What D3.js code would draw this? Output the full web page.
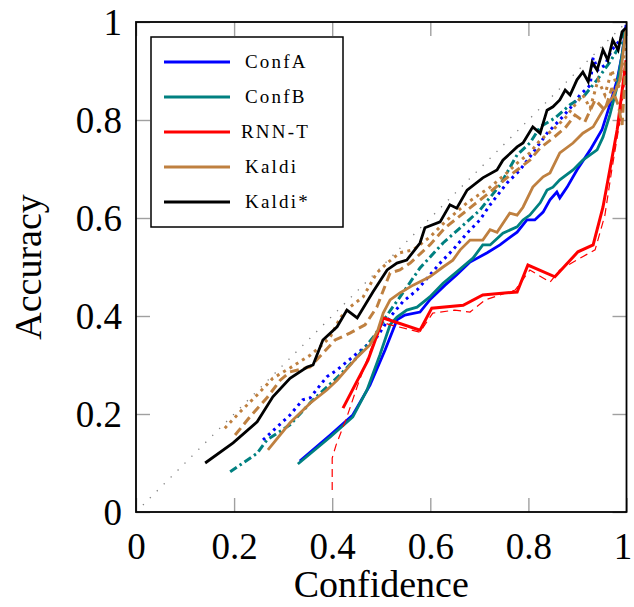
<!DOCTYPE html>
<html><head><meta charset="utf-8">
<script src="https://cdn.jsdelivr.net/npm/d3@7"></script>
<style>body{margin:0;background:#fff}svg{display:block}</style>
</head><body><svg id="c" width="634" height="607"></svg>
<script>
const ticks = [0, 0.2, 0.4, 0.6, 0.8, 1];
const tickLabels = ["0", "0.2", "0.4", "0.6", "0.8", "1"];
const legendNames = ["ConfA", "ConfB", "RNN-T", "Kaldi", "Kaldi*"];
const diagonal = [[0,0],[1,1]];

const confA_solid = [[0.334,0.104],[0.396,0.157],[0.442,0.198],[0.477,0.259],[0.508,0.331],[0.532,0.392],[0.548,0.402],[0.579,0.408],[0.599,0.433],[0.630,0.463],[0.654,0.484],[0.681,0.510],[0.716,0.529],[0.742,0.545],[0.763,0.561],[0.777,0.571],[0.797,0.596],[0.813,0.596],[0.830,0.612],[0.844,0.637],[0.858,0.653],[0.864,0.641],[0.879,0.663],[0.899,0.698],[0.926,0.739],[0.950,0.780],[0.966,0.831],[0.981,0.882],[0.991,0.933],[0.999,0.994]];
const confA_dotted = [[0.259,0.147],[0.287,0.173],[0.314,0.198],[0.340,0.229],[0.355,0.233],[0.389,0.276],[0.410,0.290],[0.451,0.324],[0.491,0.357],[0.518,0.398],[0.544,0.429],[0.573,0.453],[0.620,0.508],[0.646,0.535],[0.675,0.569],[0.701,0.596],[0.722,0.627],[0.756,0.671],[0.783,0.698],[0.809,0.733],[0.838,0.773],[0.864,0.800],[0.885,0.824],[0.905,0.851],[0.926,0.871],[0.932,0.927],[0.942,0.902],[0.956,0.912],[0.970,0.943],[0.987,0.963],[0.999,0.994]];
const confB_solid = [[0.330,0.098],[0.396,0.153],[0.442,0.194],[0.471,0.249],[0.497,0.320],[0.518,0.382],[0.532,0.398],[0.552,0.412],[0.573,0.418],[0.599,0.439],[0.626,0.467],[0.654,0.490],[0.687,0.518],[0.707,0.545],[0.722,0.545],[0.748,0.569],[0.777,0.582],[0.789,0.596],[0.803,0.606],[0.824,0.631],[0.838,0.657],[0.850,0.663],[0.864,0.678],[0.891,0.698],[0.911,0.718],[0.940,0.739],[0.952,0.765],[0.966,0.810],[0.979,0.861],[0.989,0.922],[0.999,0.984]];
const confB_dashdot = [[0.192,0.082],[0.247,0.120],[0.267,0.147],[0.314,0.178],[0.361,0.229],[0.389,0.255],[0.416,0.280],[0.451,0.316],[0.487,0.361],[0.512,0.402],[0.544,0.447],[0.579,0.498],[0.626,0.549],[0.661,0.580],[0.701,0.616],[0.742,0.667],[0.777,0.729],[0.803,0.753],[0.824,0.786],[0.854,0.804],[0.885,0.831],[0.915,0.851],[0.940,0.882],[0.966,0.918],[0.987,0.953],[0.999,0.988]];
const rnnt_solid = [[0.422,0.212],[0.473,0.310],[0.504,0.396],[0.579,0.371],[0.603,0.416],[0.667,0.422],[0.707,0.443],[0.777,0.449],[0.799,0.504],[0.854,0.480],[0.901,0.531],[0.932,0.545],[0.952,0.622],[0.981,0.780],[0.999,0.922]];
const rnnt_dashed = [[0.400,0.045],[0.400,0.110],[0.408,0.137],[0.430,0.194],[0.452,0.259],[0.477,0.327],[0.501,0.388],[0.518,0.382],[0.579,0.367],[0.605,0.406],[0.650,0.412],[0.681,0.408],[0.712,0.433],[0.773,0.453],[0.803,0.494],[0.844,0.469],[0.864,0.494],[0.905,0.518],[0.936,0.535],[0.956,0.606],[0.970,0.698],[0.987,0.800],[0.999,0.902]];
const kaldi_solid = [[0.269,0.127],[0.314,0.182],[0.355,0.222],[0.389,0.249],[0.410,0.269],[0.451,0.316],[0.477,0.341],[0.493,0.371],[0.504,0.406],[0.518,0.433],[0.538,0.447],[0.565,0.463],[0.599,0.480],[0.626,0.500],[0.646,0.514],[0.661,0.535],[0.681,0.555],[0.707,0.555],[0.722,0.576],[0.736,0.571],[0.762,0.610],[0.777,0.606],[0.789,0.622],[0.809,0.663],[0.830,0.684],[0.844,0.692],[0.864,0.733],[0.891,0.753],[0.911,0.773],[0.932,0.786],[0.952,0.820],[0.972,0.847],[0.987,0.882],[0.993,0.937],[0.999,0.984]];
const kaldi_dashed = [[0.202,0.157],[0.232,0.194],[0.267,0.233],[0.294,0.269],[0.314,0.286],[0.355,0.296],[0.381,0.324],[0.406,0.351],[0.436,0.365],[0.467,0.382],[0.491,0.418],[0.518,0.488],[0.538,0.494],[0.559,0.508],[0.599,0.545],[0.630,0.580],[0.675,0.616],[0.722,0.653],[0.756,0.682],[0.777,0.698],[0.803,0.718],[0.824,0.743],[0.850,0.763],[0.875,0.784],[0.895,0.810],[0.915,0.796],[0.936,0.841],[0.956,0.820],[0.970,0.865],[0.983,0.831],[0.991,0.790],[0.999,0.922]];
const kaldi_dotted = [[0.181,0.171],[0.212,0.204],[0.247,0.239],[0.279,0.273],[0.314,0.294],[0.355,0.320],[0.375,0.337],[0.396,0.357],[0.416,0.396],[0.436,0.418],[0.463,0.439],[0.491,0.488],[0.512,0.508],[0.538,0.529],[0.565,0.535],[0.599,0.561],[0.630,0.592],[0.675,0.631],[0.722,0.663],[0.756,0.692],[0.777,0.712],[0.803,0.733],[0.824,0.759],[0.850,0.780],[0.875,0.804],[0.895,0.831],[0.911,0.851],[0.926,0.824],[0.942,0.882],[0.956,0.851],[0.970,0.902],[0.983,0.861],[0.995,0.933],[0.999,0.963]];
const kaldiStar_solid = [[0.141,0.100],[0.198,0.141],[0.247,0.184],[0.279,0.235],[0.314,0.273],[0.349,0.296],[0.361,0.300],[0.381,0.351],[0.410,0.378],[0.430,0.412],[0.451,0.396],[0.483,0.449],[0.512,0.494],[0.532,0.508],[0.552,0.514],[0.579,0.549],[0.589,0.580],[0.620,0.592],[0.640,0.627],[0.654,0.620],[0.675,0.657],[0.707,0.682],[0.736,0.698],[0.748,0.718],[0.777,0.745],[0.789,0.753],[0.809,0.786],[0.824,0.773],[0.838,0.820],[0.850,0.827],[0.864,0.841],[0.875,0.861],[0.885,0.851],[0.899,0.882],[0.911,0.898],[0.922,0.878],[0.930,0.918],[0.940,0.902],[0.952,0.943],[0.962,0.922],[0.972,0.963],[0.983,0.943],[0.991,0.980],[0.999,0.988]];

const colors = {ConfA:"#0000ff", ConfB:"#008080", "RNN-T":"#ff0000", Kaldi:"#bf8040", "Kaldi*":"#000000"};

const series = [
  {data: confA_solid, color: colors.ConfA, w: 2.8, dash: null},
  {data: confA_dotted, color: colors.ConfA, w: 3, dash: "2.8,4.2"},
  {data: confB_solid, color: colors.ConfB, w: 2.8, dash: null},
  {data: confB_dashdot, color: colors.ConfB, w: 3, dash: "8,3.5,2.4,3.5"},
  {data: rnnt_solid, color: colors["RNN-T"], w: 3, dash: null},
  {data: rnnt_dashed, color: colors["RNN-T"], w: 1.2, dash: "8,5"},
  {data: kaldi_solid, color: colors.Kaldi, w: 2.8, dash: null},
  {data: kaldi_dashed, color: colors.Kaldi, w: 3, dash: "9,5"},
  {data: kaldi_dotted, color: colors.Kaldi, w: 3, dash: "3,4.4"},
  {data: kaldiStar_solid, color: colors["Kaldi*"], w: 2.8, dash: null}
];

const svg = d3.select("#c");
const L = 136, R = 626.5, T = 22, B = 512;
const x = d3.scaleLinear().domain([0,1]).range([L,R]);
const y = d3.scaleLinear().domain([0,1]).range([B,T]);
const font = "'Liberation Serif','DejaVu Serif',serif";

svg.append("defs").append("clipPath").attr("id","clip")
  .append("rect").attr("x",L).attr("y",T).attr("width",R-L).attr("height",B-T);

// ticks (inward, gray) on all sides
const tickLen = 14, tickColor = "#a0a0a0";
const gB = svg.append("g").attr("transform",`translate(0,${B})`)
  .call(d3.axisBottom(x).tickValues(ticks).tickSize(-tickLen).tickFormat((d,i)=>tickLabels[i]).tickPadding(20));
const gT = svg.append("g").attr("transform",`translate(0,${T})`)
  .call(d3.axisTop(x).tickValues(ticks).tickSize(-tickLen).tickFormat(""));
const gL = svg.append("g").attr("transform",`translate(${L},0)`)
  .call(d3.axisLeft(y).tickValues(ticks).tickSize(-tickLen).tickFormat((d,i)=>tickLabels[i]).tickPadding(14));
const gR = svg.append("g").attr("transform",`translate(${R},0)`)
  .call(d3.axisRight(y).tickValues(ticks).tickSize(-tickLen).tickFormat(""));
[gB,gT,gL,gR].forEach(g=>{
  g.select(".domain").remove();
  g.selectAll(".tick line").attr("stroke",tickColor).attr("stroke-width",1.4);
  g.selectAll(".tick text").attr("font-family",font).attr("font-size",37).attr("fill","#000");
});
gL.selectAll(".tick text").attr("dy","0.34em");
gB.selectAll(".tick text").attr("dy","0.72em");
gB.selectAll(".tick text").filter(d=>d===1).attr("dx",-4);

const line = d3.line().x(d=>x(d[0])).y(d=>y(d[1]));
const plot = svg.append("g").attr("clip-path","url(#clip)");

// diagonal reference
plot.append("path").datum(diagonal).attr("d",line)
  .attr("fill","none").attr("stroke","#808080").attr("stroke-width",1.3)
  .attr("stroke-dasharray","1.3,8.5");

series.forEach(s=>{
  plot.append("path").datum(s.data).attr("d",line)
    .attr("fill","none").attr("stroke",s.color).attr("stroke-width",s.w)
    .attr("stroke-linejoin","miter").attr("stroke-miterlimit",3)
    .attr("stroke-dasharray",s.dash);
});

// frame
svg.append("rect").attr("x",L).attr("y",T).attr("width",R-L).attr("height",B-T)
  .attr("fill","none").attr("stroke","#000").attr("stroke-width",1.8);

// axis titles
svg.append("text").attr("x",(L+R)/2).attr("y",597).attr("text-anchor","middle")
  .attr("font-family",font).attr("font-size",38).text("Confidence");
svg.append("text").attr("transform",`translate(41,${(T+B)/2}) rotate(-90)`).attr("text-anchor","middle")
  .attr("font-family",font).attr("font-size",38).text("Accuracy");

// legend
const lg = svg.append("g");
lg.append("rect").attr("x",151).attr("y",37).attr("width",192).attr("height",190)
  .attr("fill","#fff").attr("stroke","#000").attr("stroke-width",1.5);
legendNames.forEach((n,i)=>{
  const yy = 62 + i*35;
  lg.append("line").attr("x1",164).attr("x2",230).attr("y1",yy).attr("y2",yy)
    .attr("stroke",colors[n]).attr("stroke-width",2.8);
  lg.append("text").attr("x",n==="RNN-T"?241:245).attr("y",yy+6).attr("font-family",font)
    .attr("font-size",19).attr("letter-spacing",2.2).text(n);
});
</script></body></html>
